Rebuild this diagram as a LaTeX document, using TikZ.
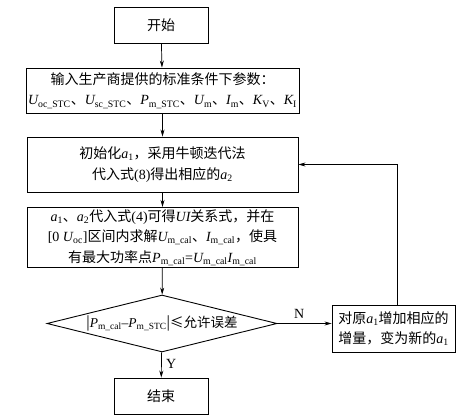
\documentclass[tikz,border=0pt]{standalone}
\usepackage{fontspec}
\usetikzlibrary{arrows.meta, shapes.geometric}
\setmainfont{Noto Sans CJK SC}
\newfontfamily\lat{Liberation Serif}
% variable with roman subscript
\newcommand{\vv}[2]{{\lat\itshape #1}\textsubscript{\lat\upshape #2}}
\newcommand{\vi}[1]{{\lat\itshape #1}}
\newcommand{\absbar}{{\lat\fontsize{17}{18}\selectfont|}}

\begin{document}
\begin{tikzpicture}[
    x=1pt, y=-1pt,
    >={Stealth[length=7pt, width=4pt]},
    font=\fontsize{14}{20.5}\selectfont,
    stepbox/.style={draw, line width=0.9pt, align=center, inner sep=2pt},
    testbox/.style={draw, diamond, line width=0.9pt, inner sep=0pt, shape aspect=4},
    link/.style={->, line width=0.7pt}
]
    \useasboundingbox (0,0) rectangle (471,420);

    % Main column
    \node[stepbox, minimum width=94pt, minimum height=36pt] (start) at (161,25) {开始};
    \node[stepbox, minimum width=271pt, minimum height=45pt] (input) at (162.5,90.5)
        {输入生产商提供的标准条件下参数：\\
         \vv{U}{oc\_STC}、\vv{U}{sc\_STC}、\vv{P}{m\_STC}、\vv{U}{m}、\vv{I}{m}、\vv{K}{V}、\vv{K}{I}};
    \node[stepbox, minimum width=271pt, minimum height=55pt] (init) at (162.5,164.5)
        {初始化\vv{a}{1}，采用牛顿迭代法\\代入式{\lat(8)}得出相应的\vv{a}{2}};
    \node[stepbox, minimum width=271pt, minimum height=59pt] (solve) at (162.5,237.5)
        {\vv{a}{1}、\vv{a}{2}代入式{\lat(4)}可得\vi{UI}关系式，并在\\
         {\lat[0 \vv{U}{oc}]}区间内求解\vv{U}{m\_cal}、\vv{I}{m\_cal}，使具\\
         有最大功率点\vv{P}{m\_cal}{\lat=}\vv{U}{m\_cal}\vv{I}{m\_cal}};
    \node[testbox, minimum width=230pt, minimum height=57pt, font=\fontsize{13.5}{18}\selectfont] (check) at (162,323.5)
        {\absbar\vv{P}{m\_cal}{\lat–}\vv{P}{m\_STC}\absbar≤允许误差};
    \node[stepbox, minimum width=94pt, minimum height=36pt] (stop) at (161,396) {结束};

    % Correction box
    \node[stepbox, minimum width=123pt, minimum height=47pt] (fix) at (393.5,328.5)
        {对原\vv{a}{1}增加相应的\\增量，变为新的\vv{a}{1}};

    % Connectors
    \draw[link] (start) -- (input);
    \draw[link] (input) -- (init);
    \draw[link] (init) -- (solve);
    \draw[link] (solve) -- (check);
    \draw[link] (check) -- (stop) node[pos=0.45, right=1pt] {\lat Y};
    \draw[link] (check.east) -- (check.east -| fix.west) node[pos=0.4, above=1pt] {\lat N};
    \draw[link] ([xshift=4pt]fix.north) |- (init.east);

\end{tikzpicture}
\end{document}
